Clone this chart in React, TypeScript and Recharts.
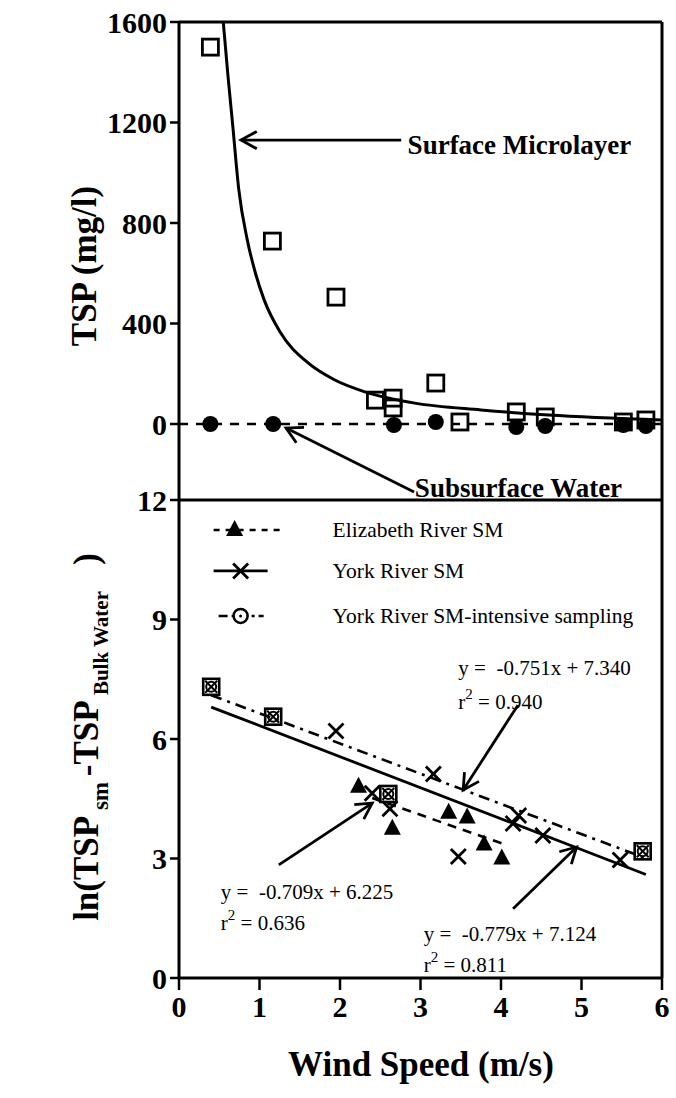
import React from "react";
import {
  ComposedChart,
  Line,
  Scatter,
  XAxis,
  YAxis,
  ReferenceLine,
  ReferenceDot,
} from "recharts";

const SERIF = '"Liberation Serif", "Times New Roman", serif';

// ---------- Top panel: TSP (mg/l) vs wind speed ----------
const surfaceWind = [0.39, 1.16, 1.95, 2.44, 2.66, 2.66, 3.19, 3.49, 4.19, 4.55, 5.52, 5.8];
const surfaceTSP = [1500, 728, 505, 95, 103, 64, 163, 8, 48, 28, 8, 16];
const subsurfaceWind = [0.39, 1.17, 2.67, 3.19, 4.19, 4.55, 5.52, 5.8];
const subsurfaceTSP = [0, 0, -4, 8, -12, -8, -4, -8];
const curveWind = [0.55, 0.61, 0.67, 0.74, 0.85, 0.95, 1.06, 1.26, 1.6, 1.93, 2.31, 2.93, 3.75, 4.59, 6.0];
const curveTSP = [1600, 1380, 1180, 940, 730, 600, 492, 364, 244, 176, 128, 83, 56, 36, 16];
const subFitWind = [0, 6];
const subFitTSP = [0, 0];
const topTicks = [0, 400, 800, 1200, 1600];

// ---------- Bottom panel: ln(TSPsm - TSPbulk) vs wind speed ----------
const elizWind = [2.23, 2.65, 3.35, 3.58, 3.79, 4.01];
const elizLn = [4.8, 3.75, 4.15, 4.03, 3.35, 3.0];
const yorkWind = [1.95, 2.4, 2.62, 3.16, 3.47, 4.15, 4.22, 4.52, 5.48];
const yorkLn = [6.2, 4.64, 4.25, 5.12, 3.05, 3.88, 4.08, 3.58, 2.96];
const intensiveWind = [0.4, 1.17, 2.6, 5.76];
const intensiveLn = [7.31, 6.56, 4.62, 3.18];
const elizFitWind = [2.4, 4.05];
const elizFitLn = [4.52, 3.35];
const yorkFitWind = [0.4, 5.8];
const yorkFitLn = [6.8, 2.6];
const intensiveFitWind = [0.4, 5.78];
const intensiveFitLn = [7.1, 3.02];
const bottomTicks = [0, 3, 6, 9, 12];
const windTicks = [0, 1, 2, 3, 4, 5, 6];

const legendNames = ["Elizabeth River SM", "York River SM", "York River SM-intensive sampling"];
const legendRows = [11.25, 10.22, 9.09];

const zip = (xs: number[], ys: number[]) => xs.map((x, i) => ({ x, y: ys[i] }));

// ---------- marker shapes ----------
const SquareMarker = (p: any) => {
  if (p.cx == null) return null;
  return (
    <rect x={p.cx - 8} y={p.cy - 8} width={16} height={16} fill="none" stroke="#000" strokeWidth={2.8} />
  );
};
const DotMarker = (p: any) => {
  if (p.cx == null) return null;
  return <circle cx={p.cx} cy={p.cy} r={8} fill="#000" />;
};
const TriangleMarker = (p: any) => {
  if (p.cx == null) return null;
  const { cx, cy } = p;
  return <polygon points={`${cx},${cy - 10} ${cx - 8.5},${cy + 6} ${cx + 8.5},${cy + 6}`} fill="#000" />;
};
const CrossMarker = (p: any) => {
  if (p.cx == null) return null;
  const { cx, cy } = p;
  const s = 7.5;
  return (
    <g stroke="#000" strokeWidth={2.8}>
      <line x1={cx - s} y1={cy - s} x2={cx + s} y2={cy + s} />
      <line x1={cx - s} y1={cy + s} x2={cx + s} y2={cy - s} />
    </g>
  );
};
const IntensiveMarker = (p: any) => {
  if (p.cx == null) return null;
  const { cx, cy } = p;
  const s = 6;
  return (
    <g stroke="#000" fill="none">
      <rect x={cx - 8} y={cy - 8} width={16} height={16} strokeWidth={2.6} />
      <circle cx={cx} cy={cy} r={5} strokeWidth={2} />
      <line x1={cx - s} y1={cy - s} x2={cx + s} y2={cy + s} strokeWidth={2} />
      <line x1={cx - s} y1={cy + s} x2={cx + s} y2={cy - s} strokeWidth={2} />
    </g>
  );
};

// ---------- arrow & text annotations ----------
const ArrowShape = (p: any) => {
  const { x1, y1, x2, y2 } = p;
  if (x1 == null) return null;
  const ang = Math.atan2(y2 - y1, x2 - x1);
  const L = 18;
  const spread = 0.5;
  const ax = x2 - L * Math.cos(ang - spread);
  const ay = y2 - L * Math.sin(ang - spread);
  const bx = x2 - L * Math.cos(ang + spread);
  const by = y2 - L * Math.sin(ang + spread);
  return (
    <g stroke="#000" strokeWidth={2.8} fill="none">
      <line x1={x1} y1={y1} x2={x2} y2={y2} />
      <polyline points={`${ax},${ay} ${x2},${y2} ${bx},${by}`} />
    </g>
  );
};

const boldText = (label: string, size: number) => (p: any) =>
  p.cx == null ? null : (
    <text x={p.cx} y={p.cy} fontFamily={SERIF} fontWeight="bold" fontSize={size} fill="#000" dominantBaseline="central">
      {label}
    </text>
  );

const EQ_SIZE = 21;

const eqText = (label: string) => (p: any) =>
  p.cx == null ? null : (
    <text x={p.cx} y={p.cy} fontFamily={SERIF} fontSize={EQ_SIZE} fill="#000" dominantBaseline="central" style={{ whiteSpace: "pre" }}>
      {label}
    </text>
  );

const r2Text = (value: string) => (p: any) =>
  p.cx == null ? null : (
    <text x={p.cx} y={p.cy} fontFamily={SERIF} fontSize={EQ_SIZE} fill="#000" dominantBaseline="central" style={{ whiteSpace: "pre" }}>
      <tspan>r</tspan>
      <tspan dy={-8} fontSize={15}>2</tspan>
      <tspan dy={8}>{" = " + value}</tspan>
    </text>
  );

const legendShape = (row: number) => (p: any) => {
  if (p.cx == null) return null;
  const { cx, cy } = p;
  let sym: any = null;
  if (row === 0) {
    sym = (
      <g>
        <line x1={cx} y1={cy} x2={cx + 70} y2={cy} stroke="#000" strokeWidth={2.5} strokeDasharray="6 6" />
        <TriangleMarker cx={cx + 21} cy={cy} />
      </g>
    );
  } else if (row === 1) {
    sym = (
      <g>
        <line x1={cx} y1={cy} x2={cx + 54} y2={cy} stroke="#000" strokeWidth={2.8} />
        <CrossMarker cx={cx + 27} cy={cy} />
      </g>
    );
  } else {
    sym = (
      <g>
        <line x1={cx + 5} y1={cy} x2={cx + 50} y2={cy} stroke="#000" strokeWidth={2.5} strokeDasharray="9 4 3 4" />
        <circle cx={cx + 27} cy={cy} r={7} fill="#fff" stroke="#000" strokeWidth={2.5} />
        <circle cx={cx + 27} cy={cy} r={1.5} fill="#000" />
      </g>
    );
  }
  return (
    <g>
      {sym}
      <text x={cx + 119} y={cy} fontFamily={SERIF} fontSize={21.5} fill="#000" dominantBaseline="central">
        {legendNames[row]}
      </text>
    </g>
  );
};

const tickStyle = { fill: "#000", fontSize: 30, fontWeight: "bold", fontFamily: SERIF };
const axisLineStyle = { stroke: "#000", strokeWidth: 3 };
const tickLineStyle = { stroke: "#000", strokeWidth: 2.5 };

const TITLE_SIZE = 35;

const TopYLabel = () => (
  <text
    x={96}
    y={266}
    transform="rotate(-90, 96, 266)"
    textAnchor="middle"
    fontFamily={SERIF}
    fontWeight="bold"
    fontSize={TITLE_SIZE}
    fill="#000"
  >
    TSP (mg/l)
  </text>
);

const BottomYLabel = () => (
  <text
    x={98}
    y={277}
    transform="rotate(-90, 98, 277)"
    textAnchor="middle"
    fontFamily={SERIF}
    fontWeight="bold"
    fontSize={TITLE_SIZE}
    fill="#000"
    style={{ whiteSpace: "pre" }}
  >
    <tspan>ln(TSP</tspan>
    <tspan dy={10} fontSize={23}>{" sm "}</tspan>
    <tspan dy={-10}>-TSP</tspan>
    <tspan dy={10} fontSize={21}>{" Bulk Water"}</tspan>
    <tspan dy={-10}>{"   )"}</tspan>
  </text>
);

const XTitle = () => (
  <text x={421} y={604} textAnchor="middle" fontFamily={SERIF} fontWeight="bold" fontSize={TITLE_SIZE} fill="#000" dominantBaseline="central">
    Wind Speed (m/s)
  </text>
);

export default function App() {
  return (
    <div style={{ position: "absolute", left: 0, top: 0, width: 676, height: 1098, background: "#fff" }}>
      {/* Top panel */}
      <div style={{ position: "absolute", left: 0, top: 0 }}>
        <ComposedChart width={676} height={510} margin={{ top: 22, right: 14, bottom: 10, left: 0 }}>
          <XAxis type="number" dataKey="x" domain={[0, 6]} hide />
          <YAxis
            type="number"
            dataKey="y"
            domain={[-302.5, 1600]}
            ticks={topTicks}
            width={179}
            tick={tickStyle}
            tickSize={9}
            tickMargin={3}
            axisLine={axisLineStyle}
            tickLine={tickLineStyle}
            allowDataOverflow
            label={TopYLabel}
          />
          <ReferenceLine y={1600} stroke="#000" strokeWidth={3} />
          <ReferenceLine x={6} stroke="#000" strokeWidth={3} />
          <Line data={zip(subFitWind, subFitTSP)} dataKey="y" type="linear" stroke="#000" strokeWidth={2.6} strokeDasharray="9 8" dot={false} isAnimationActive={false} />
          <Line data={zip(curveWind, curveTSP)} dataKey="y" type="monotone" stroke="#000" strokeWidth={3} dot={false} isAnimationActive={false} />
          <Scatter data={zip(subsurfaceWind, subsurfaceTSP)} shape={DotMarker} isAnimationActive={false} />
          <Scatter data={zip(surfaceWind, surfaceTSP)} shape={SquareMarker} isAnimationActive={false} />
          <ReferenceLine segment={[{ x: 2.76, y: 1130 }, { x: 0.77, y: 1130 }]} shape={ArrowShape} />
          <ReferenceDot x={2.84} y={1110} r={0} shape={boldText("Surface Microlayer", 27)} />
          <ReferenceLine segment={[{ x: 2.92, y: -271 }, { x: 1.33, y: -16 }]} shape={ArrowShape} />
          <ReferenceDot x={2.93} y={-255} r={0} shape={boldText("Subsurface Water", 27)} />
        </ComposedChart>
      </div>

      {/* Bottom panel */}
      <div style={{ position: "absolute", left: 0, top: 460 }}>
        <ComposedChart width={676} height={638} margin={{ top: 40, right: 14, bottom: 0, left: 0 }}>
          <XAxis
            type="number"
            dataKey="x"
            domain={[0, 6]}
            ticks={windTicks}
            height={120}
            tick={tickStyle}
            tickSize={12}
            tickMargin={6}
            axisLine={axisLineStyle}
            tickLine={tickLineStyle}
            label={XTitle}
          />
          <YAxis
            type="number"
            dataKey="y"
            domain={[0, 12]}
            ticks={bottomTicks}
            width={179}
            tick={tickStyle}
            tickSize={9}
            tickMargin={3}
            axisLine={axisLineStyle}
            tickLine={tickLineStyle}
            label={BottomYLabel}
          />
          <ReferenceLine y={12} stroke="#000" strokeWidth={3} />
          <ReferenceLine x={6} stroke="#000" strokeWidth={3} />
          <Line data={zip(yorkFitWind, yorkFitLn)} dataKey="y" type="linear" stroke="#000" strokeWidth={2.8} dot={false} isAnimationActive={false} />
          <Line data={zip(intensiveFitWind, intensiveFitLn)} dataKey="y" type="linear" stroke="#000" strokeWidth={2.6} strokeDasharray="11 6 3 6" dot={false} isAnimationActive={false} />
          <Line data={zip(elizFitWind, elizFitLn)} dataKey="y" type="linear" stroke="#000" strokeWidth={2.6} strokeDasharray="9 7" dot={false} isAnimationActive={false} />
          <Scatter data={zip(elizWind, elizLn)} shape={TriangleMarker} isAnimationActive={false} />
          <Scatter data={zip(yorkWind, yorkLn)} shape={CrossMarker} isAnimationActive={false} />
          <Scatter data={zip(intensiveWind, intensiveLn)} shape={IntensiveMarker} isAnimationActive={false} />

          <ReferenceDot x={0.43} y={legendRows[0]} r={0} shape={legendShape(0)} />
          <ReferenceDot x={0.43} y={legendRows[1]} r={0} shape={legendShape(1)} />
          <ReferenceDot x={0.43} y={legendRows[2]} r={0} shape={legendShape(2)} />

          <ReferenceDot x={3.47} y={7.78} r={0} shape={eqText("y =  -0.751x + 7.340")} />
          <ReferenceDot x={3.47} y={6.93} r={0} shape={r2Text("0.940")} />
          <ReferenceLine segment={[{ x: 4.21, y: 6.85 }, { x: 3.53, y: 4.72 }]} shape={ArrowShape} />

          <ReferenceDot x={0.52} y={2.16} r={0} shape={eqText("y =  -0.709x + 6.225")} />
          <ReferenceDot x={0.52} y={1.38} r={0} shape={r2Text("0.636")} />
          <ReferenceLine segment={[{ x: 1.24, y: 2.84 }, { x: 2.4, y: 4.39 }]} shape={ArrowShape} />

          <ReferenceDot x={3.04} y={1.1} r={0} shape={eqText("y =  -0.779x + 7.124")} />
          <ReferenceDot x={3.04} y={0.32} r={0} shape={r2Text("0.811")} />
          <ReferenceLine segment={[{ x: 4.15, y: 1.74 }, { x: 4.94, y: 3.29 }]} shape={ArrowShape} />
        </ComposedChart>
      </div>
    </div>
  );
}
